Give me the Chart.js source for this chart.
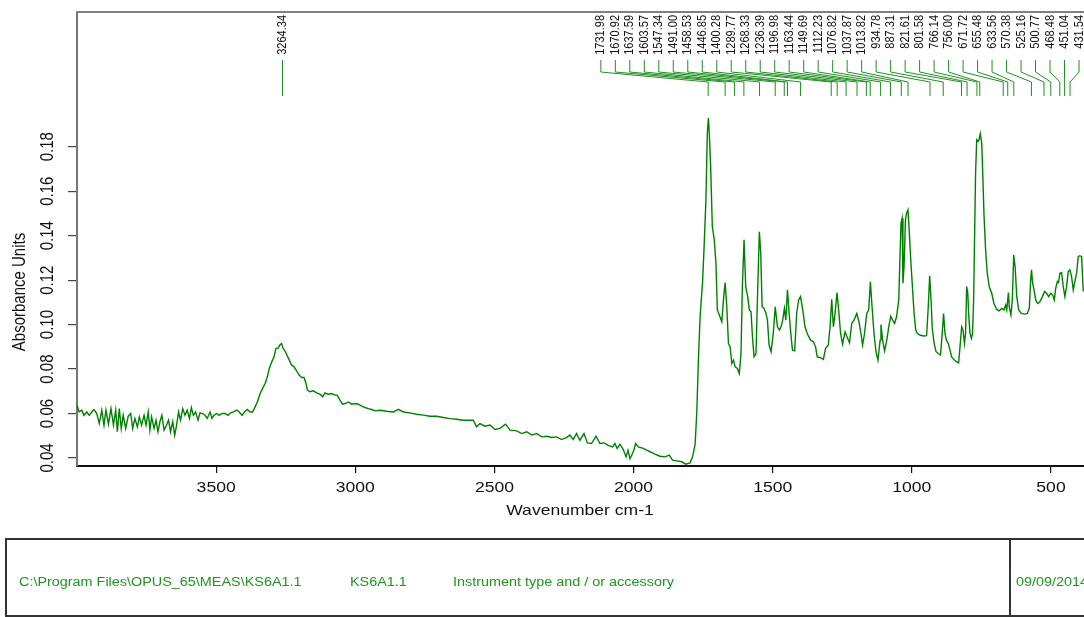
<!DOCTYPE html>
<html>
<head>
<meta charset="utf-8">
<script src="https://cdn.jsdelivr.net/npm/chart.js@4.4.1/dist/chart.umd.min.js"></script>
<style>
  html, body { margin: 0; padding: 0; background: #fff; }
  #wrap { width: 1084px; height: 617px; }
</style>
</head>
<body>
<div id="wrap"><canvas id="spectrum" width="1084" height="617"></canvas></div>
<script>
// wavenumber (cm-1) and absorbance
const wavenumbers = [
  4000, 3992, 3983, 3975, 3965, 3956, 3947, 3939, 3929, 3920, 3911, 3903, 3896, 3887, 3878, 3869,
  3861, 3855, 3848, 3841, 3834, 3825, 3816, 3807, 3800, 3792, 3783, 3776, 3768, 3759, 3752, 3744,
  3738, 3732, 3723, 3716, 3709, 3702, 3695, 3687, 3678, 3671, 3664, 3656, 3649, 3642, 3635, 3628,
  3620, 3612, 3604, 3596, 3589, 3582, 3574, 3565, 3558, 3548, 3540, 3532, 3522, 3515, 3508, 3498,
  3489, 3479, 3468, 3457, 3448, 3438, 3426, 3417, 3407, 3398, 3388, 3378, 3369, 3360, 3352, 3342,
  3333, 3324, 3316, 3309, 3300, 3292, 3285, 3278, 3271, 3265, 3259, 3251, 3244, 3237, 3229, 3220,
  3211, 3201, 3193, 3184, 3177, 3172, 3163, 3151, 3139, 3127, 3117, 3109, 3097, 3085, 3073, 3065,
  3055, 3046, 3036, 3025, 3013, 3001, 2989, 2977, 2965, 2953, 2941, 2929, 2911, 2887, 2863, 2845,
  2827, 2804, 2780, 2756, 2732, 2708, 2684, 2660, 2636, 2612, 2588, 2576, 2564, 2552, 2534, 2516,
  2498, 2480, 2460, 2444, 2420, 2402, 2384, 2366, 2348, 2330, 2312, 2294, 2277, 2259, 2241, 2229,
  2217, 2205, 2193, 2178, 2166, 2151, 2135, 2121, 2106, 2091, 2075, 2067, 2059, 2049, 2037, 2027,
  2020, 2013, 2005, 1999, 1993, 1983, 1965, 1953, 1939, 1923, 1905, 1887, 1872, 1860, 1845, 1827,
  1812, 1797, 1788, 1779, 1773, 1767, 1761, 1755, 1752, 1747, 1740, 1735, 1731, 1728, 1723, 1717,
  1710, 1704, 1699, 1692, 1683, 1677, 1671, 1665, 1659, 1653, 1647, 1641, 1635, 1627, 1620, 1614,
  1609, 1603, 1597, 1590, 1584, 1578, 1572, 1567, 1560, 1555, 1548, 1543, 1538, 1531, 1524, 1519,
  1513, 1506, 1498, 1491, 1483, 1476, 1470, 1464, 1458, 1453, 1447, 1441, 1435, 1429, 1421, 1414,
  1407, 1400, 1392, 1384, 1376, 1364, 1354, 1346, 1340, 1330, 1318, 1310, 1300, 1294, 1288, 1282,
  1276, 1269, 1264, 1256, 1249, 1240, 1232, 1224, 1216, 1208, 1198, 1190, 1183, 1177, 1170, 1162,
  1155, 1149, 1143, 1136, 1129, 1122, 1114, 1111, 1105, 1098, 1090, 1083, 1076, 1069, 1062, 1055,
  1047, 1043, 1039, 1035, 1032, 1028, 1023, 1019, 1014, 1009, 1004, 998, 992, 986, 980, 971,
  959, 947, 941, 936, 931, 927, 920, 913, 905, 897, 891, 886, 881, 876, 869, 863,
  857, 849, 839, 832, 827, 821, 816, 811, 807, 803, 799, 796, 791, 786, 782, 778,
  774, 771, 767, 762, 758, 754, 749, 746, 741, 735, 729, 722, 713, 705, 695, 686,
  677, 669, 663, 659, 653, 650, 644, 639, 634, 629, 623, 616, 607, 595, 585, 578,
  573, 570, 566, 561, 555, 548, 540, 531, 523, 516, 508, 501, 494, 488, 483, 477,
  473, 468, 462, 456, 450, 444, 438, 432, 426, 420, 414, 408, 402, 396, 390, 384
];
const absorbance = [
  0.0637, 0.0607, 0.0615, 0.0592, 0.0607, 0.0592, 0.0607, 0.0618, 0.0600, 0.0555, 0.0615, 0.0548, 0.0615, 0.0552, 0.0622, 0.0548,
  0.0615, 0.0518, 0.0622, 0.0533, 0.0592, 0.0533, 0.0588, 0.0600, 0.0533, 0.0578, 0.0540, 0.0585, 0.0548, 0.0592, 0.0548, 0.0607,
  0.0525, 0.0585, 0.0533, 0.0570, 0.0518, 0.0563, 0.0592, 0.0525, 0.0548, 0.0570, 0.0518, 0.0563, 0.0502, 0.0548, 0.0607, 0.0570,
  0.0622, 0.0592, 0.0615, 0.0578, 0.0627, 0.0592, 0.0607, 0.0570, 0.0603, 0.0600, 0.0592, 0.0578, 0.0607, 0.0578, 0.0592, 0.0600,
  0.0592, 0.0600, 0.0600, 0.0592, 0.0603, 0.0607, 0.0615, 0.0607, 0.0592, 0.0607, 0.0618, 0.0607, 0.0607, 0.0630, 0.0652, 0.0690,
  0.0713, 0.0735, 0.0765, 0.0803, 0.0833, 0.0855, 0.0893, 0.0893, 0.0908, 0.0915, 0.0893, 0.0878, 0.0858, 0.0840, 0.0818, 0.0810,
  0.0792, 0.0772, 0.0762, 0.0762, 0.0735, 0.0705, 0.0698, 0.0702, 0.0693, 0.0687, 0.0675, 0.0693, 0.0687, 0.0690, 0.0683, 0.0683,
  0.0660, 0.0642, 0.0645, 0.0652, 0.0642, 0.0645, 0.0642, 0.0633, 0.0627, 0.0622, 0.0618, 0.0612, 0.0615, 0.0610, 0.0607, 0.0619,
  0.0607, 0.0603, 0.0597, 0.0593, 0.0588, 0.0588, 0.0582, 0.0577, 0.0574, 0.0570, 0.0570, 0.0570, 0.0540, 0.0555, 0.0543, 0.0548,
  0.0528, 0.0533, 0.0552, 0.0525, 0.0522, 0.0510, 0.0518, 0.0503, 0.0510, 0.0495, 0.0498, 0.0492, 0.0495, 0.0483, 0.0492, 0.0503,
  0.0483, 0.0510, 0.0480, 0.0510, 0.0468, 0.0465, 0.0498, 0.0465, 0.0468, 0.0457, 0.0450, 0.0465, 0.0443, 0.0462, 0.0438, 0.0405,
  0.0435, 0.0397, 0.0417, 0.0435, 0.0465, 0.0450, 0.0443, 0.0435, 0.0427, 0.0417, 0.0408, 0.0405, 0.0413, 0.0390, 0.0387, 0.0383,
  0.0372, 0.0378, 0.0405, 0.0460, 0.0600, 0.0840, 0.1035, 0.1140, 0.1193, 0.1336, 0.1561, 0.1861, 0.1929, 0.1861, 0.1711, 0.1441,
  0.1381, 0.1276, 0.1066, 0.1043, 0.1013, 0.1111, 0.1189, 0.1080, 0.0915, 0.0900, 0.0825, 0.0840, 0.0810, 0.0803, 0.0780, 0.0870,
  0.1171, 0.1381, 0.1171, 0.1126, 0.1066, 0.1058, 0.0930, 0.0855, 0.0870, 0.1111, 0.1418, 0.1321, 0.1080, 0.1073, 0.1050, 0.1020,
  0.0908, 0.0878, 0.0960, 0.1080, 0.0990, 0.0975, 0.0990, 0.1020, 0.1073, 0.1020, 0.1156, 0.1050, 0.0960, 0.0885, 0.0882, 0.1050,
  0.1111, 0.1126, 0.1066, 0.0990, 0.0960, 0.0930, 0.0923, 0.0900, 0.0855, 0.0852, 0.0843, 0.0893, 0.0908, 0.0990, 0.1114, 0.0990,
  0.1050, 0.1144, 0.1080, 0.0960, 0.0912, 0.0967, 0.0942, 0.0918, 0.1005, 0.1020, 0.1050, 0.1013, 0.0960, 0.0908, 0.0960, 0.1050,
  0.1066, 0.1193, 0.1080, 0.0960, 0.0878, 0.0840, 0.0930, 0.1000, 0.0930, 0.0882, 0.0930, 0.0990, 0.1038, 0.1020, 0.1005, 0.1035,
  0.1111, 0.1291, 0.1456, 0.1478, 0.1186, 0.1261, 0.1471, 0.1501, 0.1516, 0.1411, 0.1291, 0.1171, 0.1050, 0.0975, 0.0960, 0.0953,
  0.0949, 0.0950, 0.1080, 0.1220, 0.1111, 0.0990, 0.0915, 0.0878, 0.0870, 0.0863, 0.0960, 0.1050, 0.0960, 0.0930, 0.0915, 0.0885,
  0.0855, 0.0843, 0.0832, 0.0828, 0.0900, 0.0990, 0.0975, 0.0915, 0.0960, 0.1171, 0.1141, 0.1050, 0.0960, 0.0938, 0.0960, 0.1111,
  0.1441, 0.1681, 0.1831, 0.1824, 0.1834, 0.1858, 0.1816, 0.1711, 0.1501, 0.1336, 0.1231, 0.1171, 0.1141, 0.1095, 0.1068, 0.1062,
  0.1073, 0.1066, 0.1088, 0.1066, 0.1144, 0.1080, 0.1043, 0.1111, 0.1313, 0.1261, 0.1126, 0.1066, 0.1050, 0.1047, 0.1050, 0.1073,
  0.1201, 0.1246, 0.1186, 0.1156, 0.1111, 0.1095, 0.1103, 0.1126, 0.1149, 0.1141, 0.1126, 0.1141, 0.1134, 0.1111, 0.1164, 0.1194,
  0.1189, 0.1231, 0.1234, 0.1171, 0.1126, 0.1171, 0.1238, 0.1246, 0.1216, 0.1156, 0.1194, 0.1231, 0.1306, 0.1310, 0.1306, 0.1149
];

const xTicks = [3500, 3000, 2500, 2000, 1500, 1000, 500];
const yTicks = [0.04, 0.06, 0.08, 0.10, 0.12, 0.14, 0.16, 0.18];

// picked peaks, as printed at the top of the plot
const peakSingle = ["3264.34"];
const peakGroup = [
  "1731.98", "1670.92", "1637.59", "1603.57", "1547.34", "1491.00", "1458.53", "1446.85", "1400.28",
  "1289.77", "1268.33", "1236.39", "1196.98", "1163.44", "1149.69", "1112.23", "1076.82", "1037.87",
  "1013.82", "934.78", "887.31", "821.61", "801.58", "766.14", "756.00", "671.72", "655.48", "633.56",
  "570.38", "525.16", "500.77", "468.48", "451.04", "431.54"
];

const footerTexts = [
  { text: "C:\\Program Files\\OPUS_65\\MEAS\\KS6A1.1", x: 19 },
  { text: "KS6A1.1", x: 350 },
  { text: "Instrument type and / or accessory", x: 453 },
  { text: "09/09/2014", x: 1016 }
];

const FONT = "'Liberation Sans', Arial, sans-serif";
const STRETCH = 1.17; // the export is wider than tall

function hText(ctx, str, x, y, size, align, color, sx) {
  ctx.save();
  ctx.translate(x, y);
  ctx.scale(sx || STRETCH, 1);
  ctx.font = size + "px " + FONT;
  ctx.fillStyle = color;
  ctx.textAlign = align;
  ctx.textBaseline = "middle";
  ctx.fillText(str, 0, 0);
  ctx.restore();
}

function vText(ctx, str, x, y, size, align, color) {
  ctx.save();
  ctx.translate(x, y);
  ctx.scale(STRETCH, 1);
  ctx.rotate(-Math.PI / 2);
  ctx.font = size + "px " + FONT;
  ctx.fillStyle = color;
  ctx.textAlign = align;
  ctx.textBaseline = "middle";
  ctx.fillText(str, 0, 0);
  ctx.restore();
}

const decor = {
  id: "decor",
  afterDraw(chart) {
    const ctx = chart.ctx;
    const area = chart.chartArea;
    const xs = chart.scales.x;
    const ys = chart.scales.y;

    // top frame line
    ctx.save();
    ctx.strokeStyle = "#808080";
    ctx.lineWidth = 2;
    ctx.beginPath();
    ctx.moveTo(area.left - 1, area.top);
    ctx.lineTo(area.right + 2, area.top);
    ctx.stroke();
    ctx.restore();

    // axis tick labels and titles
    xTicks.forEach(v => hText(ctx, String(v), xs.getPixelForValue(v), 488, 15, "center", "#111"));
    hText(ctx, "Wavenumber cm-1", 580, 511, 15, "center", "#111");
    yTicks.forEach(v => vText(ctx, v.toFixed(2), 48, ys.getPixelForValue(v), 15, "center", "#111"));
    vText(ctx, "Absorbance Units", 20, 292, 15, "center", "#111");

    // peak annotations
    ctx.save();
    ctx.strokeStyle = "#1f901f";
    ctx.lineWidth = 1;
    peakSingle.forEach(p => {
      const px = Math.round(xs.getPixelForValue(parseFloat(p))) + 0.5;
      vText(ctx, p, px, 15, 11, "right", "#111");
      ctx.beginPath();
      ctx.moveTo(px, 60);
      ctx.lineTo(px, 96);
      ctx.stroke();
    });
    const gap = 14.49;
    const last = area.right - 5;
    peakGroup.forEach((p, i) => {
      const lx = last - (peakGroup.length - 1 - i) * gap;
      const px = xs.getPixelForValue(parseFloat(p));
      vText(ctx, p, lx, 15, 11, "right", "#111");
      ctx.beginPath();
      ctx.moveTo(lx, 60);
      ctx.lineTo(lx, 72);
      ctx.lineTo(px, 82);
      ctx.lineTo(px, 96);
      ctx.stroke();
    });
    ctx.restore();

    // footer box
    ctx.save();
    ctx.strokeStyle = "#333";
    ctx.lineWidth = 2;
    ctx.beginPath();
    ctx.moveTo(1100, 539);
    ctx.lineTo(6, 539);
    ctx.lineTo(6, 616);
    ctx.lineTo(1100, 616);
    ctx.moveTo(1010, 539);
    ctx.lineTo(1010, 616);
    ctx.stroke();
    ctx.restore();
    footerTexts.forEach(f => hText(ctx, f.text, f.x, 583, 12, "left", "#1e961e", 1.2));
  }
};

const points = wavenumbers.map((w, i) => ({ x: w, y: absorbance[i] }));

new Chart(document.getElementById("spectrum"), {
  type: "line",
  data: {
    datasets: [{
      label: "KS6A1.1",
      data: points,
      borderColor: "#008000",
      borderWidth: 1.4,
      pointRadius: 0,
      tension: 0,
      fill: false
    }]
  },
  options: {
    responsive: false,
    animation: false,
    layout: { padding: { top: 12, left: 0, right: 0, bottom: 0 } },
    plugins: {
      legend: { display: false },
      tooltip: { enabled: false }
    },
    scales: {
      x: {
        type: "linear",
        reverse: true,
        min: 381.4,
        max: 4000,
        afterBuildTicks: s => { s.ticks = xTicks.map(v => ({ value: v })); },
        afterFit: s => { s.height = 151; },
        ticks: { display: false },
        grid: { drawOnChartArea: false, drawTicks: true, tickLength: 7, color: "#111", lineWidth: 1.2 },
        border: { display: true, color: "#111", width: 2 }
      },
      y: {
        type: "linear",
        min: 0.0364,
        max: 0.2406,
        afterBuildTicks: s => { s.ticks = yTicks.map(v => ({ value: v })); },
        afterFit: s => { s.width = 77; },
        ticks: { display: false },
        grid: { drawOnChartArea: false, drawTicks: true, tickLength: 9, color: "#444", lineWidth: 1.2 },
        border: { display: true, color: "#777", width: 2 }
      }
    }
  },
  plugins: [decor]
});
</script>
</body>
</html>
